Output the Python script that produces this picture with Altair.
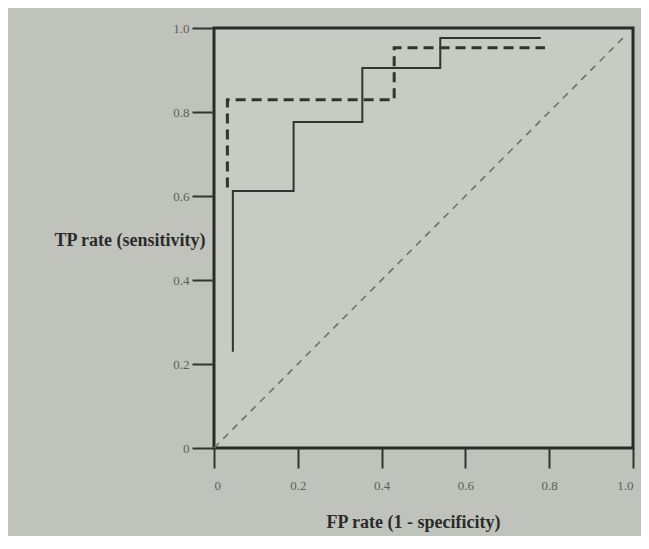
import altair as alt
import pandas as pd

# Solid ROC curve (step points)
solid_x = [0.045, 0.045, 0.19, 0.19, 0.354, 0.354, 0.54, 0.54, 0.78]
solid_y = [0.229, 0.612, 0.612, 0.776, 0.776, 0.905, 0.905, 0.976, 0.976]

# Dashed ROC curve (step points)
dashed_x = [0.032, 0.032, 0.43, 0.43, 0.79]
dashed_y = [0.62, 0.829, 0.829, 0.953, 0.953]

# Chance diagonal
diag_x = [0.0, 0.98]
diag_y = [0.0, 0.98]

tick_values = [0, 0.2, 0.4, 0.6, 0.8, 1.0]

solid_df = pd.DataFrame({"x": solid_x, "y": solid_y, "o": list(range(len(solid_x)))})
dashed_df = pd.DataFrame({"x": dashed_x, "y": dashed_y, "o": list(range(len(dashed_x)))})
diag_df = pd.DataFrame({"x": diag_x, "y": diag_y, "o": list(range(len(diag_x)))})

label_expr = "datum.value == 0 ? '0' : format(datum.value, '.1f')"

xenc = alt.X(
    "x:Q",
    scale=alt.Scale(domain=[0, 1], nice=False, zero=False),
    axis=alt.Axis(
        values=tick_values,
        labelExpr=label_expr,
        title="FP rate (1 - specificity)",
        grid=False,
        domain=False,
        tickSize=20,
        tickWidth=2,
        tickColor="#333333",
        labelPadding=11,
        labelFont="Liberation Serif",
        labelFontSize=13,
        labelColor="#5e5e5e",
        titleFont="Liberation Serif",
        titleFontSize=18,
        titleFontWeight="bold",
        titleColor="#2b2b2b",
        titleX=199,
        titleY=74,
        titleBaseline="middle",
        titleAlign="center",
    ),
)
yenc = alt.Y(
    "y:Q",
    scale=alt.Scale(domain=[0, 1], nice=False, zero=False),
    axis=alt.Axis(
        values=tick_values,
        labelExpr=label_expr,
        title="TP rate (sensitivity)",
        grid=False,
        domain=False,
        tickSize=22,
        tickWidth=2,
        tickColor="#333333",
        labelPadding=3,
        labelFont="Liberation Serif",
        labelFontSize=13,
        labelColor="#5e5e5e",
        titleFont="Liberation Serif",
        titleFontSize=18,
        titleFontWeight="bold",
        titleColor="#2b2b2b",
        titleAngle=0,
        titleAlign="right",
        titleBaseline="middle",
        titleX=-9,
        titleY=212,
    ),
)

diag = alt.Chart(diag_df).mark_line(
    color="#6f6f6f", strokeWidth=1.6, strokeDash=[7, 6]
).encode(x=xenc, y=yenc, order="o:Q")

solid = alt.Chart(solid_df).mark_line(
    color="#333333", strokeWidth=2, interpolate="linear"
).encode(x=xenc, y=yenc, order="o:Q")

dashed = alt.Chart(dashed_df).mark_line(
    color="#333333", strokeWidth=3, strokeDash=[10, 6]
).encode(x=xenc, y=yenc, order="o:Q")

chart = (
    alt.layer(diag, solid, dashed)
    .properties(
        width=419,
        height=420,
        autosize=alt.AutoSizeParams(type="none"),
        padding={"left": 206, "top": 20, "right": 8, "bottom": 88},
        background="#bfc3bb",
    )
    .configure_view(stroke="#2a2a2a", strokeWidth=3, fill="#c7cbc3")
)

chart.save("out.html", embed_options={"renderer": "svg", "actions": False})
